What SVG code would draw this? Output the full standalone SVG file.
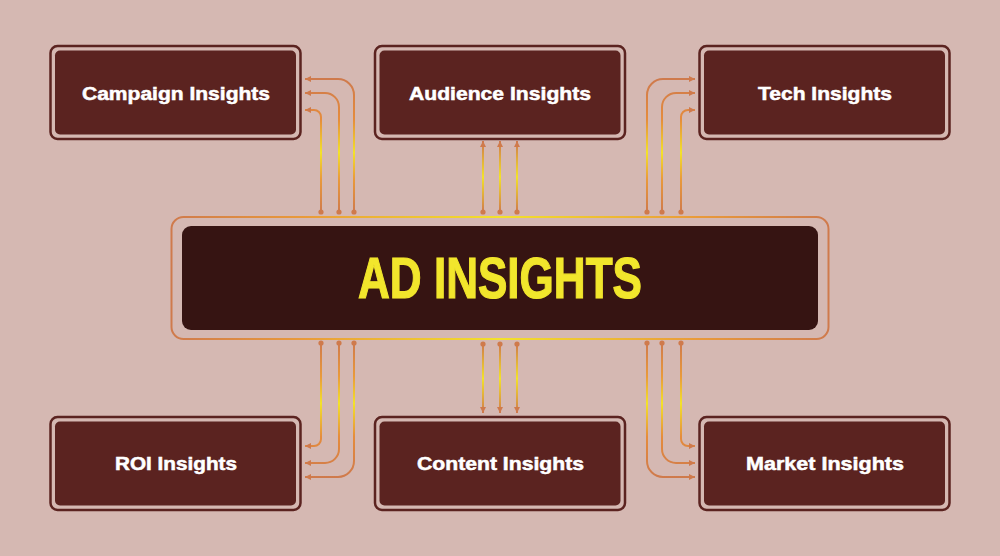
<svg xmlns="http://www.w3.org/2000/svg" width="1000" height="556" viewBox="0 0 1000 556">
  <style>
    .frame { fill: none; stroke: #5b2320; stroke-width: 2.5; }
    .card { fill: #5b2320; }
    .label { font-family: "Liberation Sans", Arial, sans-serif; font-weight: bold; font-size: 18px; fill: #ffffff; stroke: #ffffff; stroke-width: 0.5; text-anchor: middle; }
    .title { font-family: "Liberation Sans", Arial, sans-serif; font-weight: bold; font-size: 58px; fill: #f2e62c; stroke: #f2e62c; stroke-width: 1.2; text-anchor: middle; }
    .wire { fill: none; stroke-width: 2; marker-end: url(#arrow); }
    .dot { fill: #cf7a4c; }
  </style>
  <defs>
    <marker id="arrow" viewBox="0 0 6 6" refX="6" refY="3" markerWidth="6" markerHeight="6" markerUnits="userSpaceOnUse" orient="auto">
      <path d="M0,0 L6,3 L0,6 z" fill="#cf7a4c"/>
    </marker>
    <linearGradient id="gTop" gradientUnits="userSpaceOnUse" x1="0" y1="212" x2="0" y2="80">
      <stop offset="0" stop-color="#cf7a4c"/>
      <stop offset="0.25" stop-color="#e99a3a"/>
      <stop offset="0.45" stop-color="#f3e22a"/>
      <stop offset="0.7" stop-color="#e58c3c"/>
      <stop offset="1" stop-color="#cf7a4c"/>
    </linearGradient>
    <linearGradient id="gMidTop" gradientUnits="userSpaceOnUse" x1="0" y1="212" x2="0" y2="142">
      <stop offset="0" stop-color="#cf7a4c"/>
      <stop offset="0.5" stop-color="#f3e22a"/>
      <stop offset="1" stop-color="#cf7a4c"/>
    </linearGradient>
    <linearGradient id="gBot" gradientUnits="userSpaceOnUse" x1="0" y1="343" x2="0" y2="477">
      <stop offset="0" stop-color="#cf7a4c"/>
      <stop offset="0.25" stop-color="#e99a3a"/>
      <stop offset="0.45" stop-color="#f3e22a"/>
      <stop offset="0.7" stop-color="#e58c3c"/>
      <stop offset="1" stop-color="#cf7a4c"/>
    </linearGradient>
    <linearGradient id="gMidBot" gradientUnits="userSpaceOnUse" x1="0" y1="344" x2="0" y2="413">
      <stop offset="0" stop-color="#cf7a4c"/>
      <stop offset="0.5" stop-color="#f3e22a"/>
      <stop offset="1" stop-color="#cf7a4c"/>
    </linearGradient>
    <linearGradient id="gOutline" gradientUnits="userSpaceOnUse" x1="171" y1="0" x2="829" y2="0">
      <stop offset="0" stop-color="#cf7a4c"/>
      <stop offset="0.2" stop-color="#e99a3a"/>
      <stop offset="0.5" stop-color="#f3e22a"/>
      <stop offset="0.8" stop-color="#e99a3a"/>
      <stop offset="1" stop-color="#cf7a4c"/>
    </linearGradient>
  </defs>

  <rect x="0" y="0" width="1000" height="556" fill="#d5b8b2"/>

  <g id="connectors">
    <g stroke="url(#gTop)">
      <path class="wire" d="M354,212 V95 A16,16 0 0 0 338,79 H305"/>
      <path class="wire" d="M339,212 V107 A14,14 0 0 0 325,93 H305"/>
      <path class="wire" d="M321,212 V117 A7,7 0 0 0 314,110 H305"/>
      <path class="wire" d="M647,212 V95 A16,16 0 0 1 663,79 H695"/>
      <path class="wire" d="M662,212 V107 A14,14 0 0 1 676,93 H695"/>
      <path class="wire" d="M681,212 V117 A7,7 0 0 1 688,110 H695"/>
    </g>
    <g stroke="url(#gMidTop)">
      <path class="wire" d="M483,212 V141"/>
      <path class="wire" d="M500,212 V141"/>
      <path class="wire" d="M517,212 V141"/>
    </g>
    <g stroke="url(#gBot)">
      <path class="wire" d="M321,343 V439 A7,7 0 0 1 314,446 H305"/>
      <path class="wire" d="M339,343 V449 A14,14 0 0 1 325,463 H305"/>
      <path class="wire" d="M354,343 V461 A16,16 0 0 1 338,477 H305"/>
      <path class="wire" d="M681,343 V439 A7,7 0 0 0 688,446 H695"/>
      <path class="wire" d="M662,343 V449 A14,14 0 0 0 676,463 H695"/>
      <path class="wire" d="M647,343 V461 A16,16 0 0 0 663,477 H695"/>
    </g>
    <g stroke="url(#gMidBot)">
      <path class="wire" d="M483,344 V413"/>
      <path class="wire" d="M500,344 V413"/>
      <path class="wire" d="M517,344 V413"/>
    </g>
    <g>
      <circle class="dot" cx="321" cy="212" r="2.6"/>
      <circle class="dot" cx="339" cy="212" r="2.6"/>
      <circle class="dot" cx="354" cy="212" r="2.6"/>
      <circle class="dot" cx="483" cy="212" r="2.6"/>
      <circle class="dot" cx="500" cy="212" r="2.6"/>
      <circle class="dot" cx="517" cy="212" r="2.6"/>
      <circle class="dot" cx="647" cy="212" r="2.6"/>
      <circle class="dot" cx="662" cy="212" r="2.6"/>
      <circle class="dot" cx="681" cy="212" r="2.6"/>
      <circle class="dot" cx="321" cy="343" r="2.6"/>
      <circle class="dot" cx="339" cy="343" r="2.6"/>
      <circle class="dot" cx="354" cy="343" r="2.6"/>
      <circle class="dot" cx="483" cy="344" r="2.6"/>
      <circle class="dot" cx="500" cy="344" r="2.6"/>
      <circle class="dot" cx="517" cy="344" r="2.6"/>
      <circle class="dot" cx="647" cy="343" r="2.6"/>
      <circle class="dot" cx="662" cy="343" r="2.6"/>
      <circle class="dot" cx="681" cy="343" r="2.6"/>
    </g>
  </g>

  <g id="ad-insights">
    <rect x="171.5" y="217" width="657" height="122" rx="12" fill="none" stroke="url(#gOutline)" stroke-width="2"/>
    <rect x="182" y="226" width="636" height="104" rx="9" fill="#361412"/>
    <text class="title" x="500" y="298" textLength="284" lengthAdjust="spacingAndGlyphs">AD INSIGHTS</text>
  </g>

  <g id="campaign-insights">
    <rect class="frame" x="50.5" y="46" width="250" height="93" rx="7"/>
    <rect class="card" x="55" y="50.5" width="241" height="84" rx="5"/>
    <text class="label" x="176" y="100" textLength="188" lengthAdjust="spacingAndGlyphs">Campaign Insights</text>
  </g>

  <g id="audience-insights">
    <rect class="frame" x="375" y="46" width="250" height="93" rx="7"/>
    <rect class="card" x="379.5" y="50.5" width="241" height="84" rx="5"/>
    <text class="label" x="500" y="100" textLength="182" lengthAdjust="spacingAndGlyphs">Audience Insights</text>
  </g>

  <g id="tech-insights">
    <rect class="frame" x="699.5" y="46" width="250" height="93" rx="7"/>
    <rect class="card" x="704" y="50.5" width="241" height="84" rx="5"/>
    <text class="label" x="825" y="100" textLength="134" lengthAdjust="spacingAndGlyphs">Tech Insights</text>
  </g>

  <g id="roi-insights">
    <rect class="frame" x="50.5" y="417" width="250" height="93" rx="7"/>
    <rect class="card" x="55" y="421.5" width="241" height="84" rx="5"/>
    <text class="label" x="176" y="470" textLength="122" lengthAdjust="spacingAndGlyphs">ROI Insights</text>
  </g>

  <g id="content-insights">
    <rect class="frame" x="375" y="417" width="250" height="93" rx="7"/>
    <rect class="card" x="379.5" y="421.5" width="241" height="84" rx="5"/>
    <text class="label" x="500.5" y="470" textLength="167" lengthAdjust="spacingAndGlyphs">Content Insights</text>
  </g>

  <g id="market-insights">
    <rect class="frame" x="699.5" y="417" width="250" height="93" rx="7"/>
    <rect class="card" x="704" y="421.5" width="241" height="84" rx="5"/>
    <text class="label" x="825" y="470" textLength="158" lengthAdjust="spacingAndGlyphs">Market Insights</text>
  </g>
</svg>
